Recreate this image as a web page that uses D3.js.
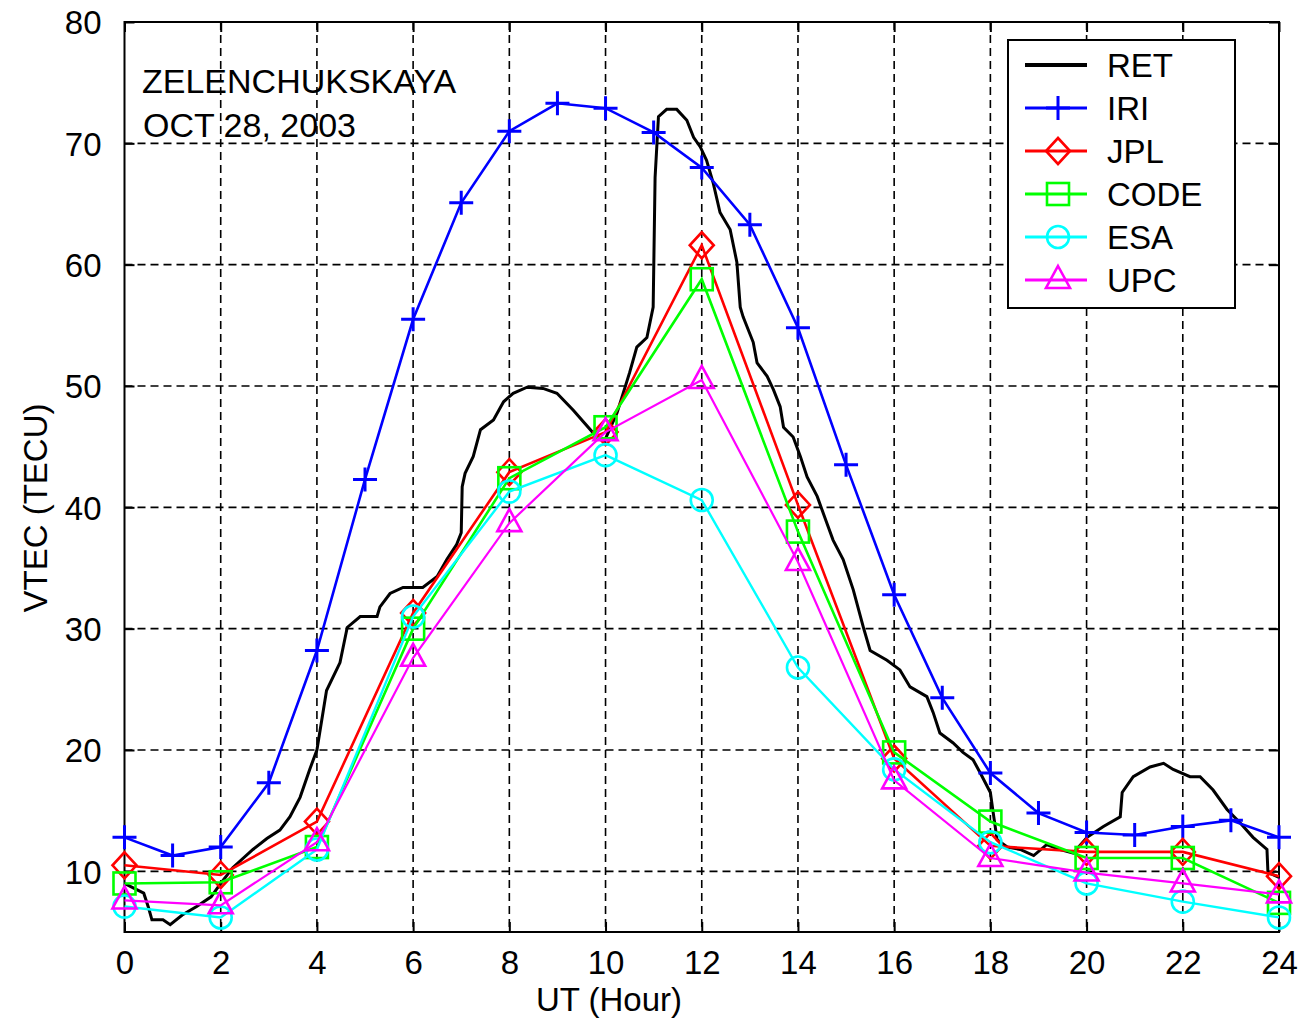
<!DOCTYPE html>
<html>
<head>
<meta charset="utf-8">
<script src="https://cdn.jsdelivr.net/npm/d3@7"></script>
<style>
  html, body { margin: 0; padding: 0; background: #fff; }
  svg text { font-family: "Liberation Sans", Arial, sans-serif; fill: #000; }
</style>
</head>
<body>
<svg id="chart" width="1301" height="1020"></svg>
<script>
// ---- data ----
const hourlyHours = [0,1,2,3,4,5,6,7,8,9,10,11,12,13,14,15,16,17,18,19,20,21,22,23,24];
const bihourlyHours = [0,2,4,6,8,10,12,14,16,18,20,22,24];

const iriVtec  = [12.8,11.3,12.0,17.3,28.2,42.3,55.5,65.1,71.0,73.3,72.9,70.9,68.0,63.3,54.8,43.5,32.8,24.3,18.1,14.8,13.2,13.0,13.7,14.2,12.8];
const jplVtec  = [10.5,9.7,14.1,31.3,42.9,46.2,61.6,40.2,19.3,12.1,11.6,11.6,9.6];
const codeVtec = [9.0,9.1,12.0,30.0,42.4,46.6,58.8,38.0,19.8,14.1,11.1,11.1,7.4];
const esaVtec  = [7.1,6.2,11.8,31.0,41.3,44.3,40.6,26.8,18.4,12.4,9.0,7.5,6.2];
const upcVtec  = [7.6,7.2,12.4,27.6,38.7,46.2,50.5,35.5,17.5,11.1,9.9,9.0,8.1];

// receiver-derived VTEC (UT hour, TECU)
const retHours = [0,0.15,0.4,0.5,0.57,0.8,0.95,1.2,1.5,1.8,2.0,2.25,2.67,2.96,3.23,3.44,3.65,3.85,4.0,4.2,4.48,4.63,4.9,5.25,5.31,5.52,5.79,6.2,6.5,6.7,6.9,7.0,7.02,7.08,7.25,7.4,7.67,7.88,8.08,8.37,8.7,8.99,9.33,9.75,9.97,10.24,10.5,10.65,10.86,10.99,11.03,11.1,11.27,11.48,11.69,11.83,11.97,12.1,12.24,12.38,12.59,12.73,12.8,12.86,13.07,13.15,13.36,13.49,13.63,13.7,13.9,14.05,14.19,14.4,14.6,14.73,14.94,15.15,15.36,15.5,15.85,16.12,16.33,16.68,16.81,16.95,17.22,17.43,17.64,17.79,18.0,18.06,18.14,18.35,18.62,18.9,19.17,19.45,19.72,20.01,20.35,20.7,20.74,20.97,21.32,21.6,21.8,22.15,22.36,22.63,22.92,23.19,23.46,23.75,23.77,24.0];
const retVtec  = [9.0,8.7,8.2,7.0,6.0,6.0,5.6,6.4,7.1,7.9,9.0,10.3,11.8,12.7,13.4,14.5,16.1,18.4,20.0,24.9,27.2,30.1,31.0,31.0,31.8,32.9,33.4,33.4,34.3,35.7,36.9,37.9,41.7,42.8,44.2,46.4,47.2,48.7,49.4,49.9,49.8,49.4,48.0,46.1,45.4,47.8,51.1,53.2,54.0,56.5,67.2,72.2,72.8,72.8,71.9,70.5,69.7,68.6,66.7,64.3,62.9,60.2,56.5,55.7,53.6,51.9,50.8,49.7,48.3,46.6,45.8,44.2,42.5,40.9,38.7,37.3,35.7,33.2,30.1,28.2,27.4,26.6,25.2,24.4,23.1,21.4,20.6,19.8,19.2,18.1,16.5,14.8,12.6,12.0,11.8,11.3,12.2,11.8,11.5,12.8,13.7,14.5,16.5,17.8,18.6,18.9,18.4,17.8,17.8,16.7,15.1,14.0,12.8,11.8,9.9,9.5];

const xTicks = [0,2,4,6,8,10,12,14,16,18,20,22,24];
const yTicks = [10,20,30,40,50,60,70,80];

const seriesNames  = ["RET","IRI","JPL","CODE","ESA","UPC"];
const seriesColors = ["#000000","#0000ff","#ff0000","#00ff00","#00ffff","#ff00ff"];
const seriesMarkers = ["none","plus","diamond","square","circle","triangle"];

// ---- layout ----
const svg = d3.select("#chart");
const pLeft = 124.5, pRight = 1279, pTop = 22, pBottom = 932;
const x = d3.scaleLinear().domain([0, 24]).range([pLeft, pRight]);
const y = d3.scaleLinear().domain([5, 80]).range([pBottom, pTop]);

// grid
const grid = svg.append("g");
grid.selectAll("line.vg").data(xTicks.slice(1, -1)).join("line")
  .attr("x1", d => x(d)).attr("x2", d => x(d))
  .attr("y1", pTop).attr("y2", pBottom)
  .attr("stroke", "#000").attr("stroke-width", 1.6).attr("stroke-dasharray", "8,5");
grid.selectAll("line.hg").data(yTicks.slice(0, -1)).join("line")
  .attr("x1", pLeft).attr("x2", pRight)
  .attr("y1", d => y(d)).attr("y2", d => y(d))
  .attr("stroke", "#000").attr("stroke-width", 1.6).attr("stroke-dasharray", "8,5");

// axes (ticks inward on all sides)
const fontTick = 33;
const axB = svg.append("g").attr("transform", `translate(0,${pBottom})`)
  .call(d3.axisBottom(x).tickValues(xTicks).tickSizeInner(-10).tickSizeOuter(0).tickPadding(22).tickFormat(d3.format("d")));
const axT = svg.append("g").attr("transform", `translate(0,${pTop})`)
  .call(d3.axisTop(x).tickValues(xTicks).tickSizeInner(-10).tickSizeOuter(0).tickFormat(""));
const axL = svg.append("g").attr("transform", `translate(${pLeft},0)`)
  .call(d3.axisLeft(y).tickValues(yTicks).tickSizeInner(-10).tickSizeOuter(0).tickPadding(23).tickFormat(d3.format("d")));
const axR = svg.append("g").attr("transform", `translate(${pRight},0)`)
  .call(d3.axisRight(y).tickValues(yTicks).tickSizeInner(-10).tickSizeOuter(0).tickFormat(""));
[axB, axT, axL, axR].forEach(a => {
  a.select(".domain").remove();
  a.selectAll(".tick line").attr("stroke", "#000").attr("stroke-width", 2);
  a.selectAll(".tick text").style("font-size", fontTick + "px")
    .style("font-family", "'Liberation Sans', Arial, sans-serif").attr("fill", "#000");
});
axB.selectAll(".tick text").attr("dy", "0.71em").attr("y", 19);
axL.selectAll(".tick text").attr("dy", "0.36em");

// frame
svg.append("rect").attr("x", pLeft).attr("y", pTop)
  .attr("width", pRight - pLeft).attr("height", pBottom - pTop)
  .attr("fill", "none").attr("stroke", "#000").attr("stroke-width", 2);

// axis titles
svg.append("text").attr("x", 609).attr("y", 1011).attr("text-anchor", "middle")
  .style("font-size", "33px").text("UT (Hour)");
svg.append("text").attr("transform", "translate(47,508) rotate(-90)").attr("text-anchor", "middle")
  .style("font-size", "33px").text("VTEC (TECU)");

// station annotation
svg.append("text").attr("x", 142).attr("y", 93).style("font-size", "34px").text("ZELENCHUKSKAYA");
svg.append("text").attr("x", 143).attr("y", 137).style("font-size", "34px").text("OCT 28, 2003");

// ---- markers ----
function drawMarker(g, type, cx, cy, color) {
  const sw = 2.6;
  if (type === "plus") {
    g.append("path").attr("d", `M${cx-12},${cy}H${cx+12}M${cx},${cy-12}V${cy+12}`)
      .attr("stroke", color).attr("stroke-width", 3).attr("fill", "none");
  } else if (type === "diamond") {
    g.append("path").attr("d", `M${cx},${cy-13}L${cx+12},${cy}L${cx},${cy+13}L${cx-12},${cy}Z`)
      .attr("stroke", color).attr("stroke-width", sw).attr("fill", "none");
  } else if (type === "square") {
    g.append("rect").attr("x", cx-11).attr("y", cy-11).attr("width", 22).attr("height", 22)
      .attr("stroke", color).attr("stroke-width", sw).attr("fill", "none");
  } else if (type === "circle") {
    g.append("circle").attr("cx", cx).attr("cy", cy).attr("r", 11)
      .attr("stroke", color).attr("stroke-width", sw).attr("fill", "none");
  } else if (type === "triangle") {
    g.append("path").attr("d", `M${cx},${cy-14}L${cx+12},${cy+8}L${cx-12},${cy+8}Z`)
      .attr("stroke", color).attr("stroke-width", sw).attr("fill", "none");
  }
}

// ---- series ----
const line = d3.line().x(d => x(d[0])).y(d => y(d[1]));
const seriesData = [
  d3.zip(retHours, retVtec),
  d3.zip(hourlyHours, iriVtec),
  d3.zip(bihourlyHours, jplVtec),
  d3.zip(bihourlyHours, codeVtec),
  d3.zip(bihourlyHours, esaVtec),
  d3.zip(bihourlyHours, upcVtec)
];
const lineWidths = [3, 2.6, 2.6, 2.6, 2.4, 2.2];

const plot = svg.append("g");
seriesData.forEach((pts, i) => {
  const g = plot.append("g");
  g.append("path").datum(pts).attr("d", line)
    .attr("fill", "none").attr("stroke", seriesColors[i])
    .attr("stroke-width", lineWidths[i]).attr("stroke-linejoin", "miter");
  if (seriesMarkers[i] !== "none") {
    pts.forEach(p => drawMarker(g, seriesMarkers[i], x(p[0]), y(p[1]), seriesColors[i]));
  }
});

// ---- legend ----
const lg = svg.append("g");
lg.append("rect").attr("x", 1008).attr("y", 40).attr("width", 227).attr("height", 268)
  .attr("fill", "#fff").attr("stroke", "#000").attr("stroke-width", 2);
const legendY = d3.scaleLinear().domain([0, 5]).range([65, 280]);
seriesNames.forEach((name, i) => {
  const ly = legendY(i);
  const g = lg.append("g");
  g.append("line").attr("x1", 1025).attr("x2", 1087).attr("y1", ly).attr("y2", ly)
    .attr("stroke", seriesColors[i]).attr("stroke-width", i === 0 ? 4 : 3);
  if (seriesMarkers[i] !== "none") drawMarker(g, seriesMarkers[i], 1058, ly, seriesColors[i]);
  g.append("text").attr("x", 1107).attr("y", ly + 12).style("font-size", "33px").text(name);
});
</script>
</body>
</html>
